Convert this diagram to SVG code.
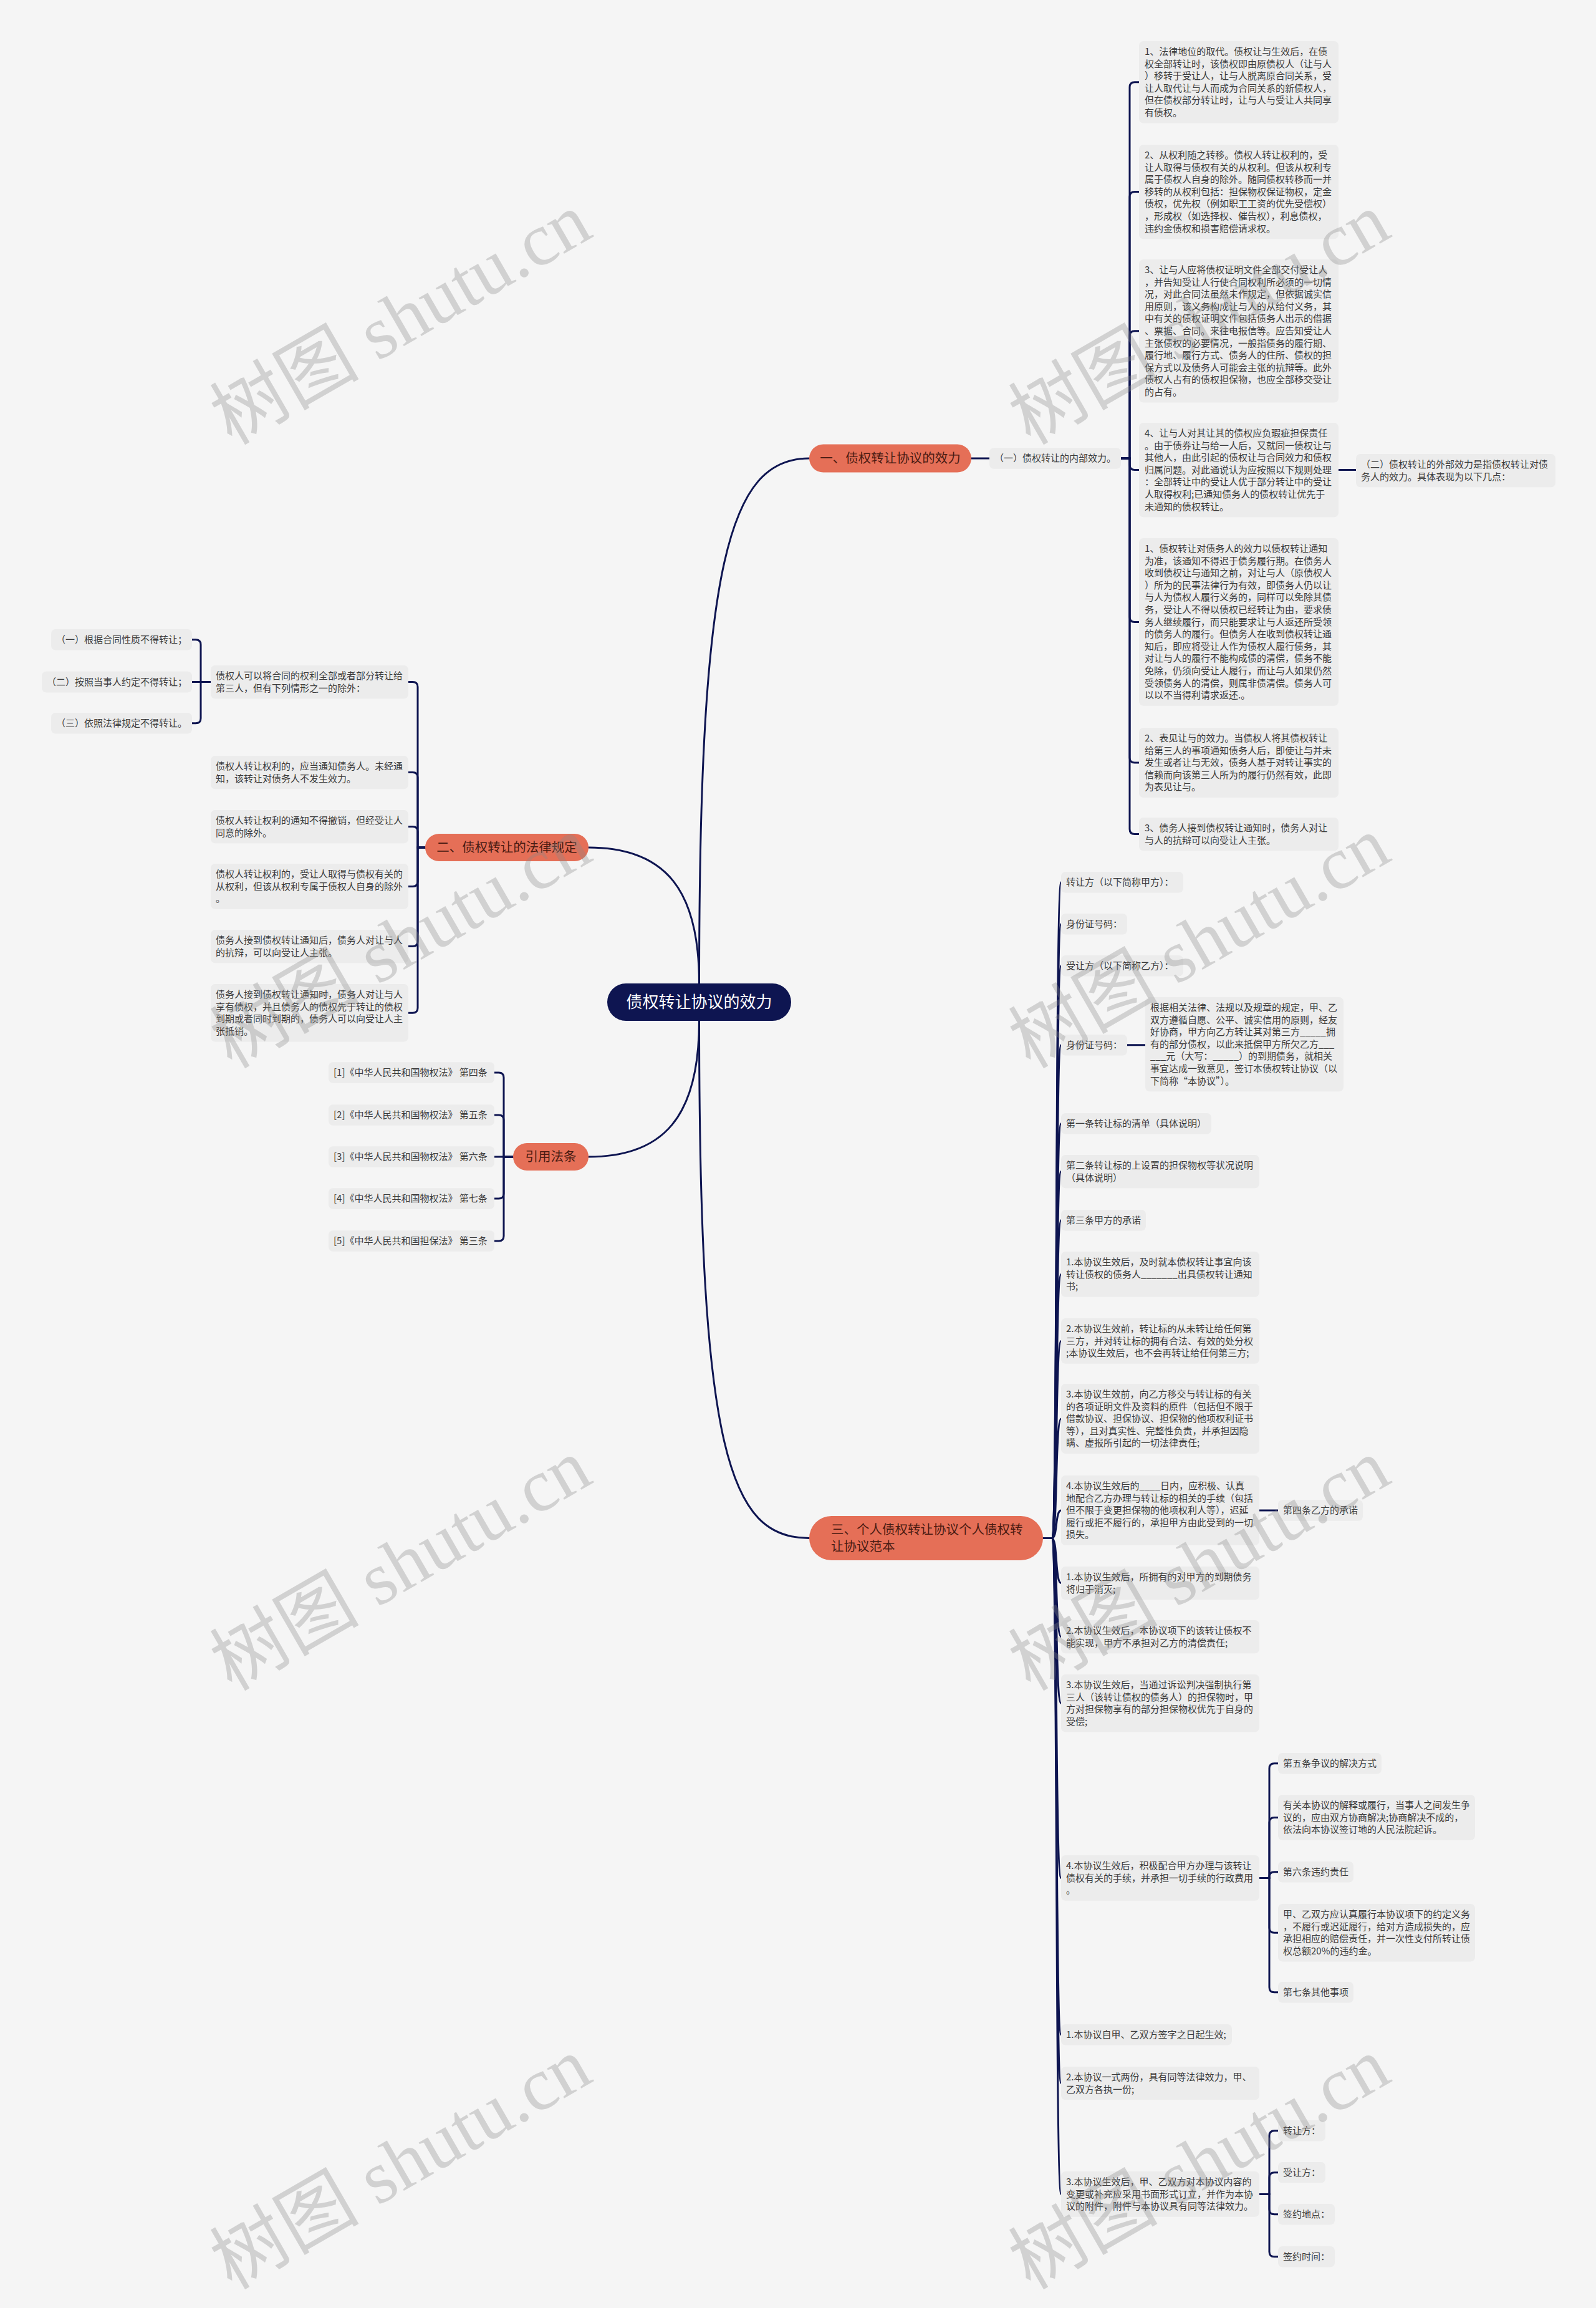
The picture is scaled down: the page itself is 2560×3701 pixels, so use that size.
<svg xmlns="http://www.w3.org/2000/svg" width="2560" height="3701" viewBox="0 0 2560 3701">
<style>
.bg{fill:#f5f5f5}
.box{fill:#ececec}
.t{font-family:"Noto Sans CJK SC","Noto Sans",sans-serif;font-size:15px;fill:#3a3a3a}
.ln{fill:none;stroke:#0e1551;stroke-width:3;stroke-linecap:round}
.br{fill:#e56f57}
.bt{font-family:"Noto Sans CJK SC",sans-serif;font-size:20.5px;fill:#4a1b12}
.root{fill:#0e1551}
.rt{font-family:"Noto Sans CJK SC",sans-serif;font-size:26px;fill:#ffffff;text-anchor:middle}
.wm{font-family:"Liberation Serif","Noto Sans CJK SC",serif;font-size:120px;fill:#8a8a8a;fill-opacity:0.33;text-anchor:middle}
</style>
<rect class="bg" x="0" y="0" width="2560" height="3701"/>

<g id="connectors">
<path class="ln" d="M1121.5,1577 C1121.5,900 1170,735 1298,735"/>
<path class="ln" d="M1121.5,1577 C1121.5,1430 1070,1359 944,1359"/>
<path class="ln" d="M1121.5,1637 C1121.5,1790 1065,1855 944,1855"/>
<path class="ln" d="M1121.5,1637 C1121.5,2330 1170,2466.5 1298,2466.5"/>
<path class="ln" d="M1558,735H1587"/>
<path class="ln" d="M1798,735H1812V139.8Q1812,131.8 1820,131.8H1827"/>
<path class="ln" d="M1798,735H1812V315.6Q1812,307.6 1820,307.6H1827"/>
<path class="ln" d="M1798,735H1812V538.8Q1812,530.8 1820,530.8H1827"/>
<path class="ln" d="M1798,735H1812V745.6Q1812,753.6 1820,753.6H1827"/>
<path class="ln" d="M1798,735H1812V989.4Q1812,997.4 1820,997.4H1827"/>
<path class="ln" d="M1798,735H1812V1215Q1812,1223 1820,1223H1827"/>
<path class="ln" d="M1798,735H1812V1329.6Q1812,1337.6 1820,1337.6H1827"/>
<path class="ln" d="M2147,753.6H2175"/>
<path class="ln" d="M682,1359H670V1101.6Q670,1093.6 662,1093.6H655"/>
<path class="ln" d="M682,1359H670V1246.6Q670,1238.6 662,1238.6H655"/>
<path class="ln" d="M682,1359H670V1333.6Q670,1325.6 662,1325.6H655"/>
<path class="ln" d="M682,1359H670V1413.4Q670,1421.4 662,1421.4H655"/>
<path class="ln" d="M682,1359H670V1509.6Q670,1517.6 662,1517.6H655"/>
<path class="ln" d="M682,1359H670V1616.2Q670,1624.2 662,1624.2H655"/>
<path class="ln" d="M338,1093.6H322V1033.8Q322,1025.8 314,1025.8H308"/>
<path class="ln" d="M338,1093.6H308"/>
<path class="ln" d="M338,1093.6H322V1151.8Q322,1159.8 314,1159.8H308"/>
<path class="ln" d="M823,1855H808V1728Q808,1720 800,1720H793"/>
<path class="ln" d="M823,1855H808V1796Q808,1788 800,1788H793"/>
<path class="ln" d="M823,1855H793"/>
<path class="ln" d="M823,1855H808V1914Q808,1922 800,1922H793"/>
<path class="ln" d="M823,1855H808V1982Q808,1990 800,1990H793"/>
<path class="ln" d="M1673,2466.5H1687C1697,2466.5 1692,1414.8 1702,1414.8"/>
<path class="ln" d="M1687,2466.5C1697,2466.5 1692,1481.8 1702,1481.8"/>
<path class="ln" d="M1687,2466.5C1697,2466.5 1692,1548.8 1702,1548.8"/>
<path class="ln" d="M1687,2466.5C1697,2466.5 1692,1675.8 1702,1675.8"/>
<path class="ln" d="M1687,2466.5C1697,2466.5 1692,1801.8 1702,1801.8"/>
<path class="ln" d="M1687,2466.5C1697,2466.5 1692,1878.6 1702,1878.6"/>
<path class="ln" d="M1687,2466.5C1697,2466.5 1692,1956.8 1702,1956.8"/>
<path class="ln" d="M1687,2466.5C1697,2466.5 1692,2043.4 1702,2043.4"/>
<path class="ln" d="M1687,2466.5C1697,2466.5 1692,2150.4 1702,2150.4"/>
<path class="ln" d="M1687,2466.5C1697,2466.5 1692,2275 1702,2275"/>
<path class="ln" d="M1687,2466.5C1697,2466.5 1692,2422 1702,2422"/>
<path class="ln" d="M1687,2466.5C1697,2466.5 1692,2538.6 1702,2538.6"/>
<path class="ln" d="M1687,2466.5C1697,2466.5 1692,2624.6 1702,2624.6"/>
<path class="ln" d="M1687,2466.5C1697,2466.5 1692,2731.2 1702,2731.2"/>
<path class="ln" d="M1687,2466.5C1697,2466.5 1692,3011.4 1702,3011.4"/>
<path class="ln" d="M1687,2466.5C1697,2466.5 1692,3262.8 1702,3262.8"/>
<path class="ln" d="M1687,2466.5C1697,2466.5 1692,3340.6 1702,3340.6"/>
<path class="ln" d="M1687,2466.5C1697,2466.5 1692,3518.4 1702,3518.4"/>
<path class="ln" d="M1808,1675.8H1837"/>
<path class="ln" d="M2020,2422H2050"/>
<path class="ln" d="M2020,3011.4H2036V2835.8Q2036,2827.8 2044,2827.8H2050"/>
<path class="ln" d="M2020,3011.4H2036V2922.4Q2036,2914.4 2044,2914.4H2050"/>
<path class="ln" d="M2020,3011.4H2036V3009.8Q2036,3001.8 2044,3001.8H2050"/>
<path class="ln" d="M2020,3011.4H2036V3091.2Q2036,3099.2 2044,3099.2H2050"/>
<path class="ln" d="M2020,3011.4H2036V3186.8Q2036,3194.8 2044,3194.8H2050"/>
<path class="ln" d="M2020,3518.4H2036V3424.8Q2036,3416.8 2044,3416.8H2050"/>
<path class="ln" d="M2020,3518.4H2036V3491.8Q2036,3483.8 2044,3483.8H2050"/>
<path class="ln" d="M2020,3518.4H2036V3542.8Q2036,3550.8 2044,3550.8H2050"/>
<path class="ln" d="M2020,3518.4H2036V3610.8Q2036,3618.8 2044,3618.8H2050"/>
</g>

<g id="root"><rect class="root" x="974" y="1577" width="295" height="60" rx="30"/><text class="rt" x="1121.5" y="1616">债权转让协议的效力</text></g>

<g id="branch1"><rect class="br" x="1298" y="712.5" width="260" height="45" rx="22.5"/><text class="bt" x="1428" y="742.3" text-anchor="middle">一、债权转让协议的效力</text></g>
<g id="b1-inner"><rect class="box" x="1587" y="718.2" width="211" height="33.6" rx="7"/><text class="t" x="1595" y="740.2">（一）债权转让的内部效力。</text></g>
<g id="b1-1"><rect class="box" x="1827" y="66" width="320" height="131.6" rx="7"/><text class="t" x="1836" y="88"><tspan x="1836">1、法律地位的取代。债权让与生效后，在债</tspan><tspan x="1836" dy="19.6">权全部转让时，该债权即由原债权人（让与人</tspan><tspan x="1836" dy="19.6">）移转于受让人，让与人脱离原合同关系，受</tspan><tspan x="1836" dy="19.6">让人取代让与人而成为合同关系的新债权人，</tspan><tspan x="1836" dy="19.6">但在债权部分转让时，让与人与受让人共同享</tspan><tspan x="1836" dy="19.6">有债权。</tspan></text></g>
<g id="b1-2"><rect class="box" x="1827" y="232" width="320" height="151.2" rx="7"/><text class="t" x="1836" y="254"><tspan x="1836">2、从权利随之转移。债权人转让权利的，受</tspan><tspan x="1836" dy="19.6">让人取得与债权有关的从权利。但该从权利专</tspan><tspan x="1836" dy="19.6">属于债权人自身的除外。随同债权转移而一并</tspan><tspan x="1836" dy="19.6">移转的从权利包括：担保物权保证物权，定金</tspan><tspan x="1836" dy="19.6">债权，优先权（例如职工工资的优先受偿权）</tspan><tspan x="1836" dy="19.6">，形成权（如选择权、催告权），利息债权，</tspan><tspan x="1836" dy="19.6">违约金债权和损害赔偿请求权。</tspan></text></g>
<g id="b1-3"><rect class="box" x="1827" y="416" width="320" height="229.6" rx="7"/><text class="t" x="1836" y="438"><tspan x="1836">3、让与人应将债权证明文件全部交付受让人</tspan><tspan x="1836" dy="19.6">，并告知受让人行使合同权利所必须的一切情</tspan><tspan x="1836" dy="19.6">况，对此合同法虽然未作规定，但依据诚实信</tspan><tspan x="1836" dy="19.6">用原则，该义务构成让与人的从给付义务，其</tspan><tspan x="1836" dy="19.6">中有关的债权证明文件包括债务人出示的借据</tspan><tspan x="1836" dy="19.6">、票据、合同。来往电报信等。应告知受让人</tspan><tspan x="1836" dy="19.6">主张债权的必要情况，一般指债务的履行期、</tspan><tspan x="1836" dy="19.6">履行地、履行方式、债务人的住所、债权的担</tspan><tspan x="1836" dy="19.6">保方式以及债务人可能会主张的抗辩等。此外</tspan><tspan x="1836" dy="19.6">债权人占有的债权担保物，也应全部移交受让</tspan><tspan x="1836" dy="19.6">的占有。</tspan></text></g>
<g id="b1-4"><rect class="box" x="1827" y="678" width="320" height="151.2" rx="7"/><text class="t" x="1836" y="700"><tspan x="1836">4、让与人对其让其的债权应负瑕疵担保责任</tspan><tspan x="1836" dy="19.6">。由于债券让与给一人后，又就同一债权让与</tspan><tspan x="1836" dy="19.6">其他人，由此引起的债权让与合同效力和债权</tspan><tspan x="1836" dy="19.6">归属问题。对此通说认为应按照以下规则处理</tspan><tspan x="1836" dy="19.6">：全部转让中的受让人优于部分转让中的受让</tspan><tspan x="1836" dy="19.6">人取得权利;已通知债务人的债权转让优先于</tspan><tspan x="1836" dy="19.6">未通知的债权转让。</tspan></text></g>
<g id="b1-outer"><rect class="box" x="2175" y="728" width="320" height="53.2" rx="7"/><text class="t" x="2183" y="750"><tspan x="2183">（二）债权转让的外部效力是指债权转让对债</tspan><tspan x="2183" dy="19.6">务人的效力。具体表现为以下几点：</tspan></text></g>
<g id="b1-5"><rect class="box" x="1827" y="863" width="320" height="268.8" rx="7"/><text class="t" x="1836" y="885"><tspan x="1836">1、债权转让对债务人的效力以债权转让通知</tspan><tspan x="1836" dy="19.6">为准，该通知不得迟于债务履行期。在债务人</tspan><tspan x="1836" dy="19.6">收到债权让与通知之前，对让与人（原债权人</tspan><tspan x="1836" dy="19.6">）所为的民事法律行为有效，即债务人仍以让</tspan><tspan x="1836" dy="19.6">与人为债权人履行义务的，同样可以免除其债</tspan><tspan x="1836" dy="19.6">务，受让人不得以债权已经转让为由，要求债</tspan><tspan x="1836" dy="19.6">务人继续履行，而只能要求让与人返还所受领</tspan><tspan x="1836" dy="19.6">的债务人的履行。但债务人在收到债权转让通</tspan><tspan x="1836" dy="19.6">知后，即应将受让人作为债权人履行债务，其</tspan><tspan x="1836" dy="19.6">对让与人的履行不能构成债的清偿，债务不能</tspan><tspan x="1836" dy="19.6">免除，仍须向受让人履行，而让与人如果仍然</tspan><tspan x="1836" dy="19.6">受领债务人的清偿，则属非债清偿。债务人可</tspan><tspan x="1836" dy="19.6">以以不当得利请求返还.。</tspan></text></g>
<g id="b1-6"><rect class="box" x="1827" y="1167" width="320" height="112" rx="7"/><text class="t" x="1836" y="1189"><tspan x="1836">2、表见让与的效力。当债权人将其债权转让</tspan><tspan x="1836" dy="19.6">给第三人的事项通知债务人后，即使让与并未</tspan><tspan x="1836" dy="19.6">发生或者让与无效，债务人基于对转让事实的</tspan><tspan x="1836" dy="19.6">信赖而向该第三人所为的履行仍然有效，此即</tspan><tspan x="1836" dy="19.6">为表见让与。</tspan></text></g>
<g id="b1-7"><rect class="box" x="1827" y="1311" width="320" height="53.2" rx="7"/><text class="t" x="1836" y="1333"><tspan x="1836">3、债务人接到债权转让通知时，债务人对让</tspan><tspan x="1836" dy="19.6">与人的抗辩可以向受让人主张。</tspan></text></g>

<g id="branch2"><rect class="br" x="682" y="1337" width="262" height="44" rx="22"/><text class="bt" x="813" y="1366.3" text-anchor="middle">二、债权转让的法律规定</text></g>
<g id="b2-1"><rect class="box" x="338" y="1067" width="317" height="53.2" rx="7"/><text class="t" x="346" y="1089"><tspan x="346">债权人可以将合同的权利全部或者部分转让给</tspan><tspan x="346" dy="19.6">第三人，但有下列情形之一的除外：</tspan></text></g>
<g id="b2-1a"><rect class="box" x="82" y="1009" width="226" height="33.6" rx="7"/><text class="t" x="90" y="1031">（一）根据合同性质不得转让；</text></g>
<g id="b2-1b"><rect class="box" x="67" y="1076.8" width="241" height="33.6" rx="7"/><text class="t" x="75" y="1098.8">（二）按照当事人约定不得转让；</text></g>
<g id="b2-1c"><rect class="box" x="82" y="1143" width="226" height="33.6" rx="7"/><text class="t" x="90" y="1165">（三）依照法律规定不得转让。</text></g>
<g id="b2-2"><rect class="box" x="338" y="1212" width="317" height="53.2" rx="7"/><text class="t" x="346" y="1234"><tspan x="346">债权人转让权利的，应当通知债务人。未经通</tspan><tspan x="346" dy="19.6">知，该转让对债务人不发生效力。</tspan></text></g>
<g id="b2-3"><rect class="box" x="338" y="1299" width="317" height="53.2" rx="7"/><text class="t" x="346" y="1321"><tspan x="346">债权人转让权利的通知不得撤销，但经受让人</tspan><tspan x="346" dy="19.6">同意的除外。</tspan></text></g>
<g id="b2-4"><rect class="box" x="338" y="1385" width="317" height="72.8" rx="7"/><text class="t" x="346" y="1407"><tspan x="346">债权人转让权利的，受让人取得与债权有关的</tspan><tspan x="346" dy="19.6">从权利，但该从权利专属于债权人自身的除外</tspan><tspan x="346" dy="19.6">。</tspan></text></g>
<g id="b2-5"><rect class="box" x="338" y="1491" width="317" height="53.2" rx="7"/><text class="t" x="346" y="1513"><tspan x="346">债务人接到债权转让通知后，债务人对让与人</tspan><tspan x="346" dy="19.6">的抗辩，可以向受让人主张。</tspan></text></g>
<g id="b2-6"><rect class="box" x="338" y="1578" width="317" height="92.4" rx="7"/><text class="t" x="346" y="1600"><tspan x="346">债务人接到债权转让通知时，债务人对让与人</tspan><tspan x="346" dy="19.6">享有债权，并且债务人的债权先于转让的债权</tspan><tspan x="346" dy="19.6">到期或者同时到期的，债务人可以向受让人主</tspan><tspan x="346" dy="19.6">张抵销。</tspan></text></g>

<g id="refs"><rect class="br" x="823" y="1833" width="121" height="44" rx="22"/><text class="bt" x="883.5" y="1862.3" text-anchor="middle">引用法条</text></g>
<g id="ref-1"><rect class="box" x="527" y="1703.2" width="266" height="33.6" rx="7"/><text class="t" x="535" y="1725.2">[1]《中华人民共和国物权法》 第四条</text></g>
<g id="ref-2"><rect class="box" x="527" y="1771.2" width="266" height="33.6" rx="7"/><text class="t" x="535" y="1793.2">[2]《中华人民共和国物权法》 第五条</text></g>
<g id="ref-3"><rect class="box" x="527" y="1838.2" width="266" height="33.6" rx="7"/><text class="t" x="535" y="1860.2">[3]《中华人民共和国物权法》 第六条</text></g>
<g id="ref-4"><rect class="box" x="527" y="1905.2" width="266" height="33.6" rx="7"/><text class="t" x="535" y="1927.2">[4]《中华人民共和国物权法》 第七条</text></g>
<g id="ref-5"><rect class="box" x="527" y="1973.2" width="266" height="33.6" rx="7"/><text class="t" x="535" y="1995.2">[5]《中华人民共和国担保法》 第三条</text></g>

<g id="branch3"><rect class="br" x="1298" y="2431" width="375" height="71" rx="35.5"/><text class="bt" x="1333" y="2460.3"><tspan x="1333">三、个人债权转让协议个人债权转</tspan><tspan x="1333" dy="27">让协议范本</tspan></text></g>
<g id="c1"><rect class="box" x="1702" y="1398" width="196" height="33.6" rx="7"/><text class="t" x="1710" y="1420">转让方（以下简称甲方）：</text></g>
<g id="c2"><rect class="box" x="1702" y="1465" width="106" height="33.6" rx="7"/><text class="t" x="1710" y="1487">身份证号码：</text></g>
<g id="c3"><rect class="box" x="1702" y="1532" width="196" height="33.6" rx="7"/><text class="t" x="1710" y="1554">受让方（以下简称乙方）：</text></g>
<g id="c4"><rect class="box" x="1702" y="1659" width="106" height="33.6" rx="7"/><text class="t" x="1710" y="1681">身份证号码：</text></g>
<g id="c4a"><rect class="box" x="1837" y="1599" width="318" height="151.2" rx="7"/><text class="t" x="1845" y="1621"><tspan x="1845">根据相关法律、法规以及规章的规定，甲、乙</tspan><tspan x="1845" dy="19.6">双方遵循自愿、公平、诚实信用的原则，经友</tspan><tspan x="1845" dy="19.6">好协商，甲方向乙方转让其对第三方_____拥</tspan><tspan x="1845" dy="19.6">有的部分债权，以此来抵偿甲方所欠乙方___</tspan><tspan x="1845" dy="19.6">___元（大写：_____）的到期债务，就相关</tspan><tspan x="1845" dy="19.6">事宜达成一致意见，签订本债权转让协议（以</tspan><tspan x="1845" dy="19.6">下简称“本协议”）。</tspan></text></g>
<g id="c5"><rect class="box" x="1702" y="1785" width="241" height="33.6" rx="7"/><text class="t" x="1710" y="1807">第一条转让标的清单（具体说明）</text></g>
<g id="c6"><rect class="box" x="1702" y="1852" width="318" height="53.2" rx="7"/><text class="t" x="1710" y="1874"><tspan x="1710">第二条转让标的上设置的担保物权等状况说明</tspan><tspan x="1710" dy="19.6">（具体说明）</tspan></text></g>
<g id="c7"><rect class="box" x="1702" y="1940" width="136" height="33.6" rx="7"/><text class="t" x="1710" y="1962">第三条甲方的承诺</text></g>
<g id="c8"><rect class="box" x="1702" y="2007" width="318" height="72.8" rx="7"/><text class="t" x="1710" y="2029"><tspan x="1710">1.本协议生效后，及时就本债权转让事宜向该</tspan><tspan x="1710" dy="19.6">转让债权的债务人_______出具债权转让通知</tspan><tspan x="1710" dy="19.6">书;</tspan></text></g>
<g id="c9"><rect class="box" x="1702" y="2114" width="318" height="72.8" rx="7"/><text class="t" x="1710" y="2136"><tspan x="1710">2.本协议生效前，转让标的从未转让给任何第</tspan><tspan x="1710" dy="19.6">三方，并对转让标的拥有合法、有效的处分权</tspan><tspan x="1710" dy="19.6">;本协议生效后，也不会再转让给任何第三方;</tspan></text></g>
<g id="c10"><rect class="box" x="1702" y="2219" width="318" height="112" rx="7"/><text class="t" x="1710" y="2241"><tspan x="1710">3.本协议生效前，向乙方移交与转让标的有关</tspan><tspan x="1710" dy="19.6">的各项证明文件及资料的原件（包括但不限于</tspan><tspan x="1710" dy="19.6">借款协议、担保协议、担保物的他项权利证书</tspan><tspan x="1710" dy="19.6">等），且对真实性、完整性负责，并承担因隐</tspan><tspan x="1710" dy="19.6">瞒、虚报所引起的一切法律责任;</tspan></text></g>
<g id="c11"><rect class="box" x="1702" y="2366" width="318" height="112" rx="7"/><text class="t" x="1710" y="2388"><tspan x="1710">4.本协议生效后的____日内，应积极、认真</tspan><tspan x="1710" dy="19.6">地配合乙方办理与转让标的相关的手续（包括</tspan><tspan x="1710" dy="19.6">但不限于变更担保物的他项权利人等），迟延</tspan><tspan x="1710" dy="19.6">履行或拒不履行的，承担甲方由此受到的一切</tspan><tspan x="1710" dy="19.6">损失。</tspan></text></g>
<g id="c11a"><rect class="box" x="2050" y="2405.2" width="136" height="33.6" rx="7"/><text class="t" x="2058" y="2427.2">第四条乙方的承诺</text></g>
<g id="c12"><rect class="box" x="1702" y="2512" width="318" height="53.2" rx="7"/><text class="t" x="1710" y="2534"><tspan x="1710">1.本协议生效后，所拥有的对甲方的到期债务</tspan><tspan x="1710" dy="19.6">将归于消灭;</tspan></text></g>
<g id="c13"><rect class="box" x="1702" y="2598" width="318" height="53.2" rx="7"/><text class="t" x="1710" y="2620"><tspan x="1710">2.本协议生效后，本协议项下的该转让债权不</tspan><tspan x="1710" dy="19.6">能实现，甲方不承担对乙方的清偿责任;</tspan></text></g>
<g id="c14"><rect class="box" x="1702" y="2685" width="318" height="92.4" rx="7"/><text class="t" x="1710" y="2707"><tspan x="1710">3.本协议生效后，当通过诉讼判决强制执行第</tspan><tspan x="1710" dy="19.6">三人（该转让债权的债务人）的担保物时，甲</tspan><tspan x="1710" dy="19.6">方对担保物享有的部分担保物权优先于自身的</tspan><tspan x="1710" dy="19.6">受偿;</tspan></text></g>
<g id="c15"><rect class="box" x="1702" y="2975" width="318" height="72.8" rx="7"/><text class="t" x="1710" y="2997"><tspan x="1710">4.本协议生效后，积极配合甲方办理与该转让</tspan><tspan x="1710" dy="19.6">债权有关的手续，并承担一切手续的行政费用</tspan><tspan x="1710" dy="19.6">。</tspan></text></g>
<g id="c15a"><rect class="box" x="2050" y="2811" width="166" height="33.6" rx="7"/><text class="t" x="2058" y="2833">第五条争议的解决方式</text></g>
<g id="c15b"><rect class="box" x="2050" y="2878" width="316" height="72.8" rx="7"/><text class="t" x="2058" y="2900"><tspan x="2058">有关本协议的解释或履行，当事人之间发生争</tspan><tspan x="2058" dy="19.6">议的，应由双方协商解决;协商解决不成的，</tspan><tspan x="2058" dy="19.6">依法向本协议签订地的人民法院起诉。</tspan></text></g>
<g id="c15c"><rect class="box" x="2050" y="2985" width="121" height="33.6" rx="7"/><text class="t" x="2058" y="3007">第六条违约责任</text></g>
<g id="c15d"><rect class="box" x="2050" y="3053" width="316" height="92.4" rx="7"/><text class="t" x="2058" y="3075"><tspan x="2058">甲、乙双方应认真履行本协议项下的约定义务</tspan><tspan x="2058" dy="19.6">，不履行或迟延履行，给对方造成损失的，应</tspan><tspan x="2058" dy="19.6">承担相应的赔偿责任，并一次性支付所转让债</tspan><tspan x="2058" dy="19.6">权总额20%的违约金。</tspan></text></g>
<g id="c15e"><rect class="box" x="2050" y="3178" width="121" height="33.6" rx="7"/><text class="t" x="2058" y="3200">第七条其他事项</text></g>
<g id="c16"><rect class="box" x="1702" y="3246" width="274" height="33.6" rx="7"/><text class="t" x="1710" y="3268">1.本协议自甲、乙双方签字之日起生效;</text></g>
<g id="c17"><rect class="box" x="1702" y="3314" width="318" height="53.2" rx="7"/><text class="t" x="1710" y="3336"><tspan x="1710">2.本协议一式两份，具有同等法律效力，甲、</tspan><tspan x="1710" dy="19.6">乙双方各执一份;</tspan></text></g>
<g id="c18"><rect class="box" x="1702" y="3482" width="318" height="72.8" rx="7"/><text class="t" x="1710" y="3504"><tspan x="1710">3.本协议生效后，甲、乙双方对本协议内容的</tspan><tspan x="1710" dy="19.6">变更或补充应采用书面形式订立，并作为本协</tspan><tspan x="1710" dy="19.6">议的附件，附件与本协议具有同等法律效力。</tspan></text></g>
<g id="c18a"><rect class="box" x="2050" y="3400" width="76" height="33.6" rx="7"/><text class="t" x="2058" y="3422">转让方：</text></g>
<g id="c18b"><rect class="box" x="2050" y="3467" width="76" height="33.6" rx="7"/><text class="t" x="2058" y="3489">受让方：</text></g>
<g id="c18c"><rect class="box" x="2050" y="3534" width="91" height="33.6" rx="7"/><text class="t" x="2058" y="3556">签约地点：</text></g>
<g id="c18d"><rect class="box" x="2050" y="3602" width="91" height="33.6" rx="7"/><text class="t" x="2058" y="3624">签约时间：</text></g>

<g id="watermark">
<text class="wm" transform="translate(642,510) rotate(-30)" dy="0.35em">树图 shutu.cn</text>
<text class="wm" transform="translate(1923,510) rotate(-30)" dy="0.35em">树图 shutu.cn</text>
<text class="wm" transform="translate(642,1510) rotate(-30)" dy="0.35em">树图 shutu.cn</text>
<text class="wm" transform="translate(1923,1510) rotate(-30)" dy="0.35em">树图 shutu.cn</text>
<text class="wm" transform="translate(642,2508) rotate(-30)" dy="0.35em">树图 shutu.cn</text>
<text class="wm" transform="translate(1923,2508) rotate(-30)" dy="0.35em">树图 shutu.cn</text>
<text class="wm" transform="translate(642,3468) rotate(-30)" dy="0.35em">树图 shutu.cn</text>
<text class="wm" transform="translate(1923,3468) rotate(-30)" dy="0.35em">树图 shutu.cn</text>
</g>
</svg>
